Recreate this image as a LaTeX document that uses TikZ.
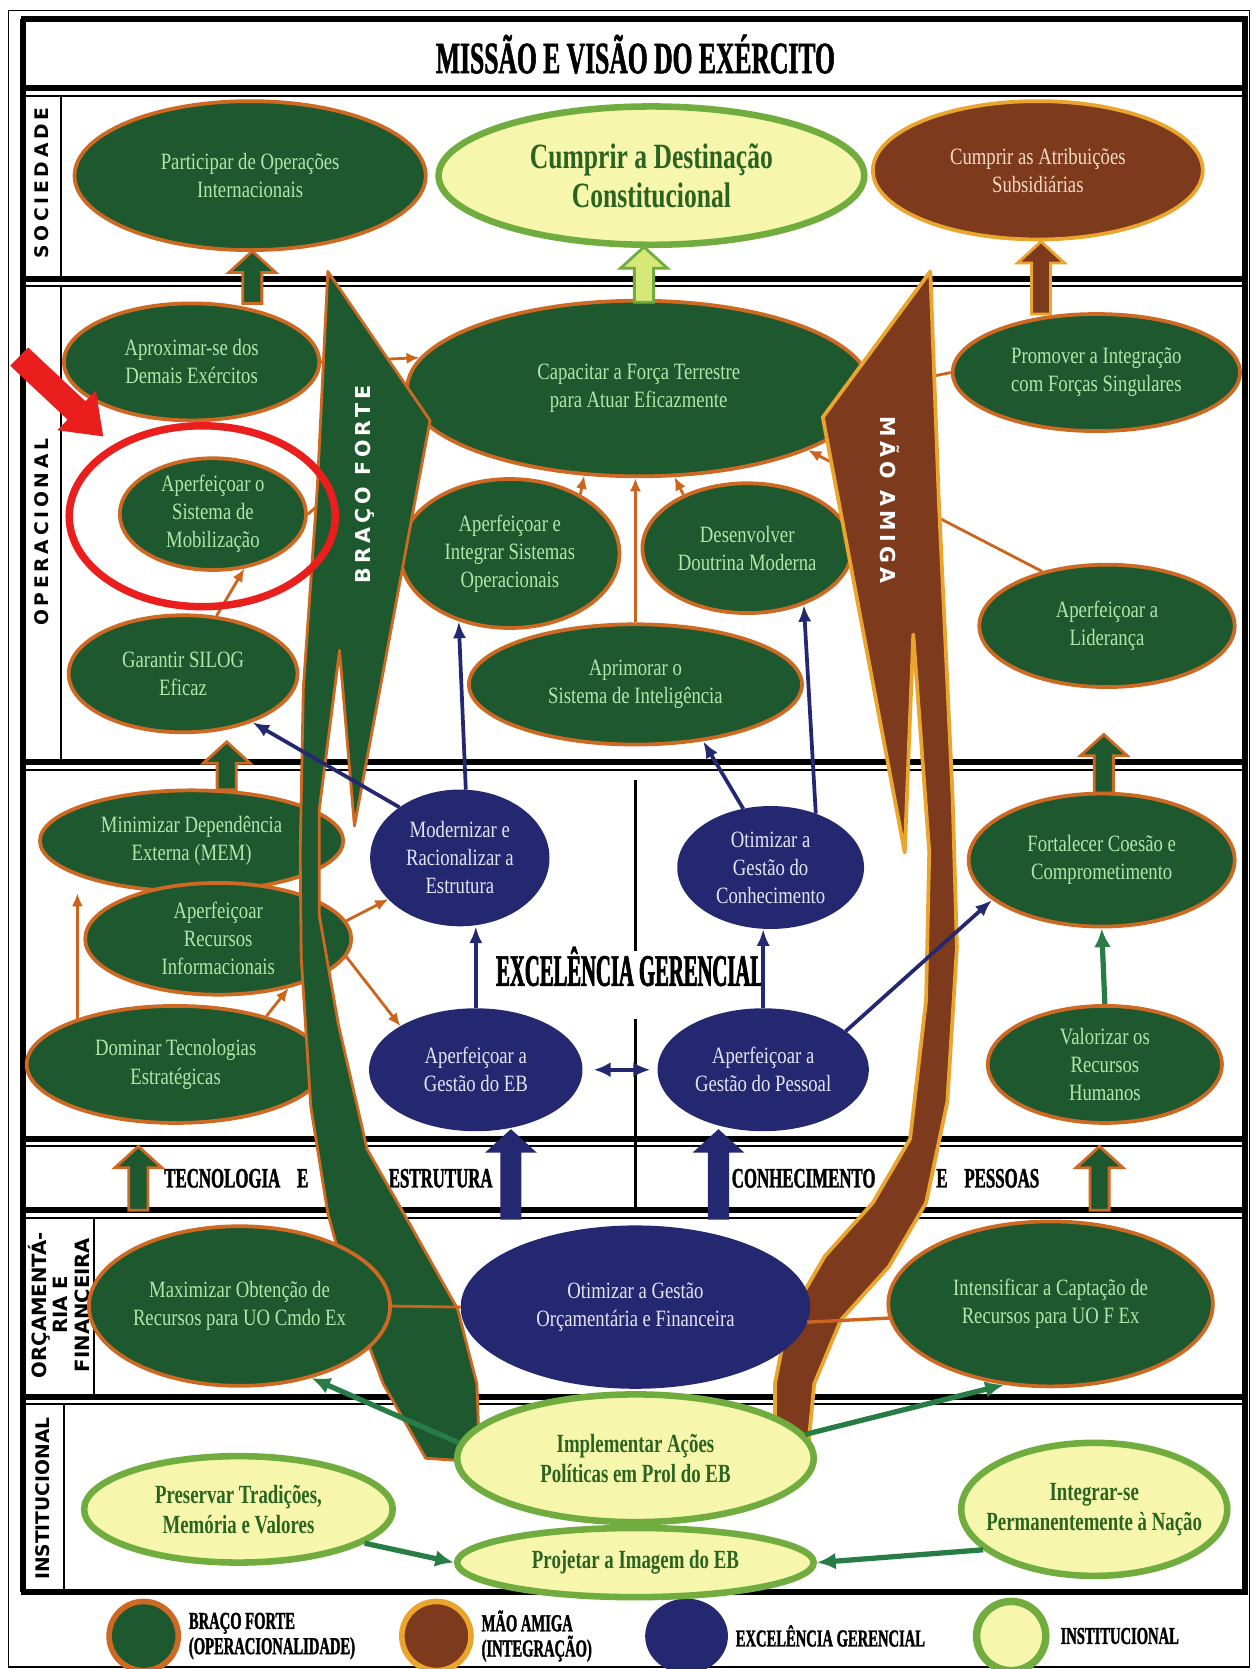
\documentclass[tikz,border=0pt]{standalone}
\usepackage{fontspec}
\setmainfont{Liberation Serif}
\newfontfamily\ellfont[FakeStretch=0.8]{Liberation Serif}
\newfontfamily\instfont[FakeStretch=0.72]{Liberation Serif}
\newfontfamily\headfont[FakeStretch=0.57,FakeBold=1.2]{Liberation Serif}
\newfontfamily\exfont[FakeStretch=0.46,FakeBold=1.6]{Liberation Serif}
\newfontfamily\legfont[FakeStretch=0.6,FakeBold=1.4]{Liberation Serif}
\newfontfamily\sidefont{DejaVu Sans}
\newfontfamily\sidefontsp[LetterSpace=20]{DejaVu Sans}
\usetikzlibrary{arrows.meta,positioning,calc,shapes.geometric}

\definecolor{bfgreen}{RGB}{30,88,46}
\definecolor{bfedge}{RGB}{205,105,35}
\definecolor{mabrown}{RGB}{125,58,28}
\definecolor{maedge}{RGB}{235,165,45}
\definecolor{egblue}{RGB}{36,40,112}
\definecolor{inyellow}{RGB}{246,246,172}
\definecolor{inedge}{RGB}{112,172,62}
\definecolor{bftext}{RGB}{175,232,170}
\definecolor{egtext}{RGB}{228,228,245}
\definecolor{intext}{RGB}{42,100,32}
\definecolor{matext}{RGB}{245,220,195}
\definecolor{lnkc}{RGB}{205,100,30}
\definecolor{inlnkc}{RGB}{40,125,70}
\definecolor{blkin}{RGB}{214,232,120}
\definecolor{hlred}{RGB}{235,30,30}

\pgfdeclarelayer{bglayer}
\pgfdeclarelayer{linklayer}
\pgfdeclarelayer{arrowlayer}
\pgfdeclarelayer{toplayer}
\pgfsetlayers{bglayer,linklayer,main,arrowlayer,toplayer}

\tikzset{
  obj/.style={ellipse, inner sep=0pt, align=center, line width=2pt,
    font=\ellfont\fontsize{12.5}{15}\selectfont},
  sz/.style 2 args={minimum width=#1cm, minimum height=#2cm},
  bf/.style={obj, fill=bfgreen, draw=bfedge, text=bftext},
  ma/.style={obj, fill=mabrown, draw=maedge, text=matext},
  eg/.style={obj, fill=egblue, draw=egblue, text=egtext},
  inst/.style={obj, fill=inyellow, draw=inedge, line width=3.5pt, text=intext,
    font=\instfont\bfseries\fontsize{14}{16}\selectfont},
  lnk/.style={draw=lnkc, line width=1.5pt, -{Latex[length=7pt,width=6pt]}},
  eglnk/.style={draw=egblue, line width=2pt, -{Latex[length=9pt,width=7pt]}},
  inlnk/.style={draw=inlnkc, line width=2.8pt, -{Latex[length=10pt,width=9pt]}},
  band/.style={line width=3.2pt},
  sidelbl/.style={rotate=90, inner sep=0pt, font=\sidefontsp\bfseries\fontsize{10}{12}\selectfont},
  striplbl/.style={inner sep=0pt, font=\legfont\bfseries\fontsize{15}{16}\selectfont},
  leglbl/.style={inner sep=0pt, align=left, font=\legfont\bfseries\fontsize{13}{13.5}\selectfont},
  legdot/.style={ellipse, minimum width=1.3cm, minimum height=1.3cm, line width=3pt},
  bigbf/.style={fill=bfgreen, draw=bfedge, line width=1.5pt, line join=round},
  bigma/.style={fill=mabrown, draw=maedge, line width=2pt, line join=round},
  blkbf/.style={fill=bfgreen, draw=bfedge, line width=1.5pt},
  blkma/.style={fill=mabrown, draw=maedge, line width=1.5pt},
  blkin/.style={fill=blkin, draw=inedge, line width=1.5pt},
  blkeg/.style={fill=egblue, draw=egblue, line width=1pt}
}

% block arrow pointing up: [style]{x}{tail y}{tip y}
\newcommand{\upblock}[4][]{%
  \draw[#1] (#2-9,#3) -- (#2-9,#4+20) -- (#2-22,#4+20) -- (#2,#4)
    -- (#2+22,#4+20) -- (#2+9,#4+20) -- (#2+9,#3) -- cycle;}

\begin{document}
\begin{tikzpicture}[x=0.02cm, y=-0.02cm]
\useasboundingbox (0,0) rectangle (1176,1568);

% frame, bands and section labels
\begin{pgfonlayer}{bglayer}
  \fill[white] (0,0) rectangle (1176,1568);
  \draw[line width=0.8pt] (8,10) rectangle (1174,1566);
  \foreach \yy in {18,83,262,716,1070,1137,1312,1496}
    \draw[band] (20,\yy) -- (1172,\yy);
  \foreach \yy in {90,269,723,1077,1144,1319}
    \draw[line width=1pt] (20,\yy) -- (1172,\yy);
  \draw[band] (22,18) -- (22,1496);
  \draw[band] (1170,18) -- (1170,1496);
  \draw[line width=1.2pt] (57,90) -- (57,262) (57,269) -- (57,716)
    (88,1144) -- (88,1312) (60,1319) -- (60,1496);
  \draw[line width=1.2pt] (597,733) -- (597,893) (597,957) -- (597,1137);
\end{pgfonlayer}

\node[font=\headfont\bfseries\fontsize{24}{26}\selectfont] (title) at (597,51) {MISSÃO E VISÃO DO EXÉRCITO};
\node[sidelbl] (socl) at (39,172) {SOCIEDADE};
\node[sidelbl] (opl) at (39,500) {OPERACIONAL};
\node[sidelbl, align=center, font=\sidefont\bfseries\fontsize{10.5}{11.5}\selectfont] (orcl) at (55,1226) {ORÇAMENTÁ-\\RIA E\\FINANCEIRA};
\node[sidelbl, font=\sidefont\bfseries\fontsize{10}{12}\selectfont] (instl) at (40,1408) {INSTITUCIONAL};

% objectives
\node[bf, sz={6.6}{2.8}] (participar) at (235,165) {Participar de Operações\\Internacionais};
\node[inst, sz={8.0}{2.6}, font=\instfont\bfseries\fontsize{19}{21}\selectfont] (cumprir) at (612,165) {Cumprir a Destinação\\Constitucional};
\node[ma, sz={6.2}{2.6}] (atribuicoes) at (975,160) {Cumprir as Atribuições\\Subsidiárias};
\node[bf, sz={4.8}{2.2}] (aproximar) at (180,340) {Aproximar-se dos\\Demais Exércitos};
\node[bf, sz={8.7}{3.3}] (capacitar) at (600,365) {Capacitar a Força Terrestre\\para Atuar Eficazmente};
\node[bf, sz={5.4}{2.2}] (promover) at (1030,350) {Promover a Integração\\com Forças Singulares};
\node[bf, sz={3.5}{2.1}] (mobilizacao) at (200,483) {Aperfeiçoar o\\Sistema de\\Mobilização};
\node[bf, sz={4.12}{2.8}] (sistemas) at (479,520) {Aperfeiçoar e\\Integrar Sistemas\\Operacionais};
\node[bf, sz={3.94}{2.44}] (doutrina) at (702,515) {Desenvolver\\Doutrina Moderna};
\node[bf, sz={6.26}{2.26}] (inteligencia) at (597,643) {Aprimorar o\\Sistema de Inteligência};
\node[bf, sz={4.3}{2.2}] (silog) at (172,633) {Garantir SILOG\\Eficaz};
\node[bf, sz={4.8}{2.3}] (lideranca) at (1040,588) {Aperfeiçoar a\\Liderança};
\node[bf, sz={5.7}{1.9}] (minimizar) at (180,790) {Minimizar Dependência\\Externa (MEM)};
\node[bf, sz={5.0}{2.1}] (recursos) at (205,882) {Aperfeiçoar\\Recursos\\Informacionais};
\node[bf, sz={5.6}{2.2}] (dominar) at (165,1000) {Dominar Tecnologias\\Estratégicas};
\node[eg, sz={3.3}{2.5}] (modernizar) at (432,806) {Modernizar e\\Racionalizar a\\Estrutura};
\node[eg, sz={3.44}{2.24}] (conhecimento) at (724,815) {Otimizar a\\Gestão do\\Conhecimento};
\node[eg, sz={3.94}{2.24}] (gestaoeb) at (447,1005) {Aperfeiçoar a\\Gestão do EB};
\node[eg, sz={3.9}{2.24}] (pessoal) at (717,1005) {Aperfeiçoar a\\Gestão do Pessoal};
\node[bf, sz={5.0}{2.5}] (fortalecer) at (1035,808) {Fortalecer Coesão e\\Comprometimento};
\node[bf, sz={4.4}{2.2}] (valorizar) at (1038,1000) {Valorizar os\\Recursos\\Humanos};

\node[font=\exfont\bfseries\fontsize{24}{26}\selectfont] (excel) at (592,908) {EXCELÊNCIA GERENCIAL};
\node[striplbl] (tecl) at (222,1107) {TECNOLOGIA\hspace{0.6em}E};
\node[striplbl] (estl) at (414,1107) {ESTRUTURA};
\node[striplbl] (conl) at (755,1107) {CONHECIMENTO};
\node[striplbl] (pesl) at (928,1107) {E\hspace{0.6em}PESSOAS};

% legend
\node[legdot, fill=bfgreen, draw=bfedge] (lgbf) at (135,1537) {};
\node[leglbl, right=0.14cm of lgbf] (lgbft) {BRAÇO FORTE\\(OPERACIONALIDADE)};
\node[legdot, fill=mabrown, draw=maedge] (lgma) at (410,1537) {};
\node[leglbl, right=0.14cm of lgma] (lgmat) {MÃO AMIGA\\(INTEGRAÇÃO)};
\node[legdot, fill=egblue, draw=egblue, minimum width=1.45cm] (lgeg) at (645,1537) {};
\node[leglbl, right=0.14cm of lgeg] (lgegt) {EXCELÊNCIA GERENCIAL};
\node[legdot, fill=inyellow, draw=inedge, line width=4pt] (lgin) at (950,1537) {};
\node[leglbl, right=0.2cm of lgin] (lgint) {INSTITUCIONAL};

\begin{pgfonlayer}{linklayer}
  \draw[lnk] (aproximar.east) -- (capacitar.172);
  \draw[lnk] (mobilizacao.east) -- (capacitar.188);
  \draw[lnk] (silog.60) -- (mobilizacao.-60);
  \draw[lnk] (sistemas.40) -- (capacitar.-122);
  \draw[lnk] (doutrina.140) -- (capacitar.-68);
  \draw[lnk] (inteligencia.north) -- (inteligencia.north |- capacitar.south);
  \draw[lnk] (promover.west) -- (capacitar.east);
  \draw[lnk] (lideranca.140) -- (capacitar.-20);
  \draw[lnk] (dominar.155) -- (dominar.155 |- minimizar.south);
  \draw[lnk] (dominar.28) -- (recursos.-35);
  \draw[lnk] (recursos.8) -- (modernizar.210);
  \draw[lnk] (recursos.-8) -- (gestaoeb.150);
\end{pgfonlayer}

\begin{pgfonlayer}{arrowlayer}
  % braco forte
  \draw[bigbf] (308,255) -- (404,395) -- (333,776) -- (319,611) -- (300,760)
    -- (300,860) -- (318,963) -- (345,1080) -- (385,1150) -- (430,1230)
    -- (448,1300) -- (450,1352) -- (430,1372) -- (400,1370) -- (360,1300)
    -- (330,1220) -- (308,1140) -- (292,1040) -- (283,900) -- (282,800)
    -- (285,646) -- (298,460) -- cycle;
  \node[rotate=90, text=white, font=\sidefontsp\bfseries\fontsize{11}{12}\selectfont] (bflbl) at (343,455) {BRAÇO FORTE};
  % mao amiga
  \draw[bigma] (874,255) -- (882,470) -- (895,750) -- (899,890) -- (890,1035)
    -- (870,1130) -- (835,1190) -- (790,1240) -- (765,1300) -- (758,1372)
    -- (728,1372) -- (728,1300) -- (740,1240) -- (775,1180) -- (820,1130)
    -- (855,1070) -- (870,940) -- (873,800) -- (858,596) -- (850,801)
    -- (773,392) -- cycle;
  \node[rotate=-90, text=white, font=\sidefontsp\bfseries\fontsize{11}{12}\selectfont] (malbl) at (836,470) {MÃO AMIGA};
  \upblock[blkbf]{237}{285}{236}
  \upblock[blkin]{605}{284}{232}
  \upblock[blkma]{978}{295}{227}
  \upblock[blkbf]{213}{742}{697}
  \upblock[blkbf]{1037}{745}{690}
  \upblock[blkbf]{130}{1137}{1077}
  \upblock[blkbf]{1033}{1137}{1077}
  \upblock[blkeg]{480}{1145}{1062}
  \upblock[blkeg]{675}{1145}{1062}
\end{pgfonlayer}

\begin{pgfonlayer}{toplayer}
  \draw[eglnk] (modernizar.140) -- (silog.-35);
  \draw[eglnk] (modernizar.85) -- (sistemas.-127);
  \draw[eglnk] (conhecimento.115) -- (inteligencia.-40);
  \draw[eglnk] (conhecimento.50) -- (doutrina.-45);
  \draw[eglnk] (gestaoeb.north) -- (gestaoeb.north |- modernizar.south);
  \draw[eglnk] (pessoal.north) -- (pessoal.north |- conhecimento.south);
  \draw[eglnk, {Latex[length=9pt,width=8pt]}-{Latex[length=9pt,width=8pt]}, shorten <=6pt, shorten >=4pt] (gestaoeb.east) -- (pessoal.west);
  \draw[eglnk] (pessoal.25) -- (fortalecer.200);
  \draw[inlnk] (valorizar.north) -- (fortalecer.south);

  \node[bf, sz={5.2}{3.0}] (maximizar) at (225,1227) {Maximizar Obtenção de\\Recursos para UO Cmdo Ex};
  \node[eg, sz={6.5}{3.0}] (orcamento) at (597,1228) {Otimizar a Gestão\\Orçamentária e Financeira};
  \node[bf, sz={6.1}{3.1}] (intensificar) at (987,1225) {Intensificar a Captação de\\Recursos para UO F Ex};
  \node[inst, sz={6.7}{2.4}] (implementar) at (597,1370) {Implementar Ações\\Políticas em Prol do EB};
  \node[inst, sz={5.8}{2.0}] (preservar) at (224,1418) {Preservar Tradições,\\Memória e Valores};
  \node[inst, sz={5.0}{2.5}, inner xsep=-8pt] (integrar) at (1028,1418) {Integrar-se\\Permanentemente à Nação};
  \node[inst, sz={6.7}{1.3}] (projetar) at (597,1468) {Projetar a Imagem do EB};

  \draw[lnkc, line width=1.5pt] (maximizar.east) -- (orcamento.west);
  \draw[lnkc, line width=1.8pt] (orcamento.-5) -- (intensificar.185);
  \draw[inlnk] (implementar.175) -- (maximizar.-45);
  \draw[inlnk] (implementar.8) -- (intensificar.-120);
  \draw[inlnk] (preservar.-15) -- (projetar.west);
  \draw[inlnk] (integrar.200) -- (projetar.east);
  \draw[inedge, line width=6pt] (implementar.south) -- (projetar.north);

  % highlight
  \node[ellipse, draw=hlred, line width=4pt, minimum width=5cm, minimum height=3.4cm] (mobring) at (190,485) {};
  \fill[hlred] (9.6,343.6) -- (63.5,394.2) -- (53.8,404.2) -- (97,410)
    -- (90,367) -- (80.3,377) -- (26.4,326.4) -- cycle;
\end{pgfonlayer}
\end{tikzpicture}
\end{document}
